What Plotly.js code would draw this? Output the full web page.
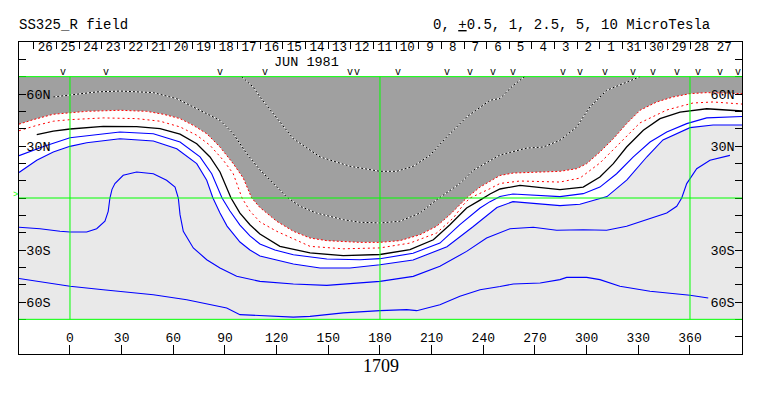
<!DOCTYPE html>
<html><head><meta charset="utf-8">
<script src="https://cdn.plot.ly/plotly-3.0.1.min.js"></script>
<style>html,body{margin:0;padding:0;background:#fff}</style>
</head><body><div id="chart" style="width:763px;height:396px"></div>
<script>
// ---- axis extents (degrees) ----
const lonMin = -29.6, lonMax = 390.2;

// ---- contour lines (longitude / latitude) ----
const redA_lon = [-29.6,-21.3,-9.7,0,9.7,29.0,44.5,54.2,63.9,71.6,79.4,87.1,94.8,100.6,105.5,110.3,120.0,129.7,139.4,149.1,168.4,180,191.6,203.2,212.9,220.6,226.4,230.3,238.1,249.7,257.4,269.0,284.5,294.2,300.0,307.7,315.5,323.2,331.0,340.7,350.3,360.0,369.7,390.2];
const redA_lat = [42.6,45.2,48.3,49.0,50.0,50.6,50.0,48.3,45.8,41.9,37.1,29.4,19.8,11.5,0,-5.5,-13.4,-19.2,-23.1,-24.6,-25.6,-25.6,-24.6,-21.2,-16.3,-9.6,-3.9,0,6.3,13.0,14.4,15.0,15.4,16.9,19.8,26.5,34.2,42.9,50.6,55.4,58.3,60.2,60.8,60.2];

const redB_lon = [-29.6,-19.3,-9.7,0,19.3,38.7,52.3,63.9,73.6,81.3,89.0,94.8,99.9,104.5,110.3,120.0,139.4,158.7,180,197.4,212.9,222.6,228.4,232.3,243.9,249.7,261.3,284.5,296.1,307.7,319.3,330.9,346.6,361.7,373.4,390.2];
const redB_lat = [38.8,41.9,44.3,45.2,46.2,45.8,44.3,41.0,36.2,30.4,21.8,14.0,0,-7.5,-13.8,-19.2,-27.9,-29.3,-28.8,-26.0,-20.2,-11.5,-3.9,0,5.4,8.4,9.8,9.2,11.5,20.2,31.7,43.3,50.8,54.8,55.4,54.2];

const black_lon = [-19.3,-9.7,0,19.3,38.7,52.3,63.9,73.6,81.3,87.1,93.5,98.7,104.5,110.3,121.9,139.4,158.7,180,197.4,211.0,220.6,230.3,238.1,243.9,249.7,261.3,284.5,298.0,307.7,315.5,323.2,332.9,342.6,354.2,369.7,390.2];
const black_lat = [36.5,38.6,39.8,41.3,41.2,40.0,36.8,31.3,23.7,15.0,0,-8.7,-15.4,-20.8,-27.9,-31.7,-33.3,-32.6,-29.8,-24.1,-15.4,-5.8,-1.2,2.3,5.2,7.3,4.8,6.3,12.1,19.8,29.4,39.1,45.8,49.6,51.5,50.2];

const blue1_lon = [-29.6,-14.5,0,29.0,48.4,63.9,75.5,82.3,88.3,92.9,98.7,104.5,110.3,119.0,129.7,149.1,168.4,180,199.2,214.8,226.4,238.1,243.9,249.7,257.2,284.5,298.0,307.7,317.4,327.1,336.8,346.5,358.1,369.7,390.2];
const blue1_lat = [24.4,30.0,34.8,38.1,37.1,32.3,23.7,14.0,0,-7.5,-15.6,-21.9,-26.5,-30.0,-32.7,-35.2,-35.6,-35.0,-31.9,-26.0,-15.4,-5.8,-2.1,0.9,2.3,0.8,2.5,6.3,14.0,23.7,32.3,38.1,42.9,46.2,47.0];

const blue2_lon = [-29.6,-19.3,-9.7,0,9.7,29.0,48.4,62.0,73.6,79.4,83.0,87.1,91.2,98.7,104.5,110.3,129.7,145.2,162.6,180,199.2,218.9,234.0,247.9,257.2,284.5,296.1,311.8,323.4,335.0,344.3,360.0,373.4,390.2];
const blue2_lat = [14.7,21.8,26.5,29.8,31.9,34.2,32.9,28.4,19.8,10.2,0,-8.7,-16.2,-25.4,-30.0,-33.5,-38.1,-40.4,-40.4,-38.5,-35.8,-28.1,-16.6,-5.5,-2.1,-4.4,-3.6,0.8,10.4,23.8,33.5,40.6,42.1,42.1];

const blue3_lon = [-29.6,-17.4,-5.8,0,9.7,15.5,20.3,22.2,23.2,24.4,26.1,30.9,38.7,48.4,56.1,61.0,62.9,63.9,65.8,71.6,79.4,87.1,96.8,110.3,129.7,149.1,180,199.3,214.8,230.3,241.9,249.7,255.5,269.0,282.6,298.0,311.6,323.2,334.9,346.5,352.3,355.2,358.1,363.9,371.6,383.2];
const blue3_lat = [-16.9,-17.7,-19.2,-19.6,-19.6,-17.7,-13.4,-7.7,0,5.0,8.3,13.1,15.0,14.0,10.2,6.3,0,-9.6,-19.2,-28.8,-35.6,-40.4,-45.2,-48.1,-49.6,-50.4,-48.1,-45.2,-39.4,-30.8,-23.1,-19.9,-17.7,-16.9,-18.6,-18.3,-18.6,-16.3,-12.5,-8.7,-4.8,0,8.3,16.9,21.8,24.6];

const blue4_lon = [-29.6,-17.4,0,19.3,48.4,67.8,83.2,91.0,98.7,110.3,129.7,139.4,158.7,180,195.5,201.3,214.8,226.4,238.1,249.7,257.4,273.0,284.5,288.4,300.0,307.7,319.3,336.8,360.0,370.6];
const blue4_lat = [-46.4,-48.1,-50.9,-52.9,-55.8,-58.7,-61.6,-63.5,-67.3,-67.7,-68.7,-68.3,-66.3,-65.0,-64.4,-65.0,-61.6,-56.7,-52.9,-51.1,-49.6,-49.0,-47.1,-45.8,-45.8,-47.1,-50.9,-53.8,-56.1,-57.7];

const dot1_lon = [-9.7,0,15.5,29.0,48.4,62.0,71.6,79.4,87.1,94.8,102.6,110.3,118.0,125.8,133.6,143.2,158.7,168.4,180,191.6,203.2,212.9,226.4,234.2,249.7,265.2,274.8,284.5,294.2,301.9,311.6,323.3,331.0];
const dot1_lat = [58.3,59.3,61.2,61.7,60.8,57.3,52.5,48.6,44.8,37.1,25.6,16.2,8.3,0.6,-4.8,-8.7,-12.5,-14.0,-14.4,-13.4,-8.7,-1.0,8.3,16.0,24.8,28.8,29.4,33.3,41.0,52.5,62.1,66.9,70];

const dot2_lon = [99.7,106.4,110.3,118.0,129.7,145.2,162.6,180,189.7,199.3,209.0,218.7,230.3,243.9,249.7,257.4,264.0];
const dot2_lat = [70,64.0,58.3,48.6,34.2,23.7,18.3,15.4,15.4,18.3,24.6,35.2,46.7,56.4,57.4,65.0,70];

// ---- pass markers (longitude) ----
const passLon = [-4.1,20.9,87.1,113.2,162.6,166.6,190.5,218.9,232.3,245.6,257.2,286.3,296.1,310.6,326.9,338.5,352.5,364.7,377.4,387.9];

// ---- tick labels ----
const lonTicks = [0,30,60,90,120,150,180,210,240,270,300,330,360];
const lonTickText = ['0','30','60','90','120','150','180','210','240','270','300','330','360'];
const latTicks = [-80,-70,-60,-50,-40,-30,-20,-10,0,10,20,30,40,50,60,70,80];
const latTickText = ['','','60S','','','30S','','','','','','30N','','','60N','',''];
const dayText = ['26','25','24','23','22','21','20','19','18','17','16','15','14','13','12','11','10','9','8','7','6','5','4','3','2','1','31','30','29','28','27'];
const dayLon = [-14.3,-1.2,12.0,25.1,38.2,51.4,64.5,77.7,90.8,103.9,117.1,130.2,143.4,156.5,169.6,182.8,195.9,209.1,222.2,235.3,248.5,261.6,274.8,287.9,301.0,314.2,327.3,340.5,353.6,366.7,379.9];
const dayEdgeLon = [-20.9,-7.8,5.4,18.5,31.7,44.8,57.9,71.1,84.2,97.4,110.5,123.6,136.8,149.9,163.1,176.2,189.3,202.5,215.6,228.8,241.9,255.0,268.2,281.3,294.5,307.6,320.7,333.9,347.0,360.2,373.3,386.4];
const gridLon = [0,180,360];
const gridLat = [-70,0,70];
const mapTop = 70, mapBottom = -70;

const FONT = 'Liberation Mono, Courier New, monospace';
const GREEN = '#00ff00';

function line(x, y, color, width, dash) {
  return {type:'scatter', mode:'lines', x:x, y:y, hoverinfo:'skip',
    line:{color:color, width:width, dash:dash || 'solid', shape:'linear'}};
}

const traces = [];
// top edge of the map (for the dark fill)
traces.push({type:'scatter', mode:'lines', x:[lonMin, lonMax], y:[mapTop, mapTop],
  line:{width:0, color:'rgba(0,0,0,0)'}, hoverinfo:'skip'});
// dark gray region above the outer red contour
const ra = line(redA_lon, redA_lat, 'rgba(0,0,0,0)', 0);
ra.fill = 'tonexty'; ra.fillcolor = '#a0a0a0';
traces.push(ra);
// white band between outer red and second blue contour
const b2f = line(blue2_lon, blue2_lat, 'rgba(0,0,0,0)', 0);
b2f.fill = 'tonexty'; b2f.fillcolor = '#ffffff';
traces.push(b2f);

// dotted black/white lines
traces.push(line(dot1_lon, dot1_lat, '#ffffff', 1));
traces.push(line(dot1_lon, dot1_lat, '#000000', 1, '2px,2px'));
traces.push(line(dot2_lon, dot2_lat, '#ffffff', 1));
traces.push(line(dot2_lon, dot2_lat, '#000000', 1, '2px,2px'));
// contours
traces.push(line(redA_lon, redA_lat, '#ff0000', 1, '2px,2px'));
traces.push(line(redB_lon, redB_lat, '#ff0000', 1, '2px,3px'));
traces.push(line(black_lon, black_lat, '#000000', 1.3));
traces.push(line(blue1_lon, blue1_lat, '#0000ff', 1.1));
traces.push(line(blue2_lon, blue2_lat, '#0000ff', 1.1));
traces.push(line(blue3_lon, blue3_lat, '#0000ff', 1.1));
traces.push(line(blue4_lon, blue4_lat, '#0000ff', 1.1));

// pass markers "v" in the top band
traces.push({type:'scatter', mode:'text', x:passLon, y:passLon.map(() => 72.4),
  text:passLon.map(() => 'v'), textposition:'middle center',
  textfont:{family:FONT, size:10, color:'#000'}, xaxis:'x2', yaxis:'y2', hoverinfo:'skip', cliponaxis:true});
// day-of-month labels in the top band
traces.push({type:'scatter', mode:'text', x:dayLon, y:dayLon.map(() => 86.4),
  text:dayText, textposition:'middle center',
  textfont:{family:FONT, size:12.5, color:'#000'}, xaxis:'x2', yaxis:'y2', hoverinfo:'skip', cliponaxis:false});

const shapes = [];
shapes.push({type:'rect', xref:'x', yref:'y', x0:lonMin, x1:lonMax, y0:mapBottom, y1:mapTop,
  fillcolor:'#e9e9e9', line:{width:0}, layer:'below'});
gridLon.forEach(v => shapes.push({type:'line', xref:'x', yref:'y', x0:v, x1:v, y0:mapBottom, y1:mapTop,
  line:{color:GREEN, width:1}, layer:'above'}));
gridLat.forEach(v => shapes.push({type:'line', xref:'x', yref:'y', x0:lonMin, x1:lonMax, y0:v, y1:v,
  line:{color:GREEN, width:1}, layer:'above'}));

const tickFont = {family:FONT, size:13.5, color:'#000'};
const layout = {
  width:763, height:396,
  margin:{l:19, r:21, t:42, b:42, pad:0},
  paper_bgcolor:'#ffffff', plot_bgcolor:'#ffffff',
  showlegend:false,
  xaxis:{range:[lonMin, lonMax], showgrid:false, zeroline:false, showline:true, mirror:true,
    linecolor:'#000', linewidth:1, tickmode:'array', tickvals:lonTicks, ticktext:lonTickText,
    ticks:'inside', ticklen:9, tickcolor:'#000', tickwidth:1, ticklabelposition:'inside',
    tickfont:{family:FONT, size:13, color:'#000'}, fixedrange:true},
  xaxis2:{overlaying:'x', side:'top', anchor:'y', range:[lonMin, lonMax], showgrid:false, zeroline:false,
    showline:false, tickmode:'array', tickvals:dayEdgeLon, showticklabels:false,
    ticks:'inside', ticklen:7, tickcolor:'#000', tickwidth:1, fixedrange:true},
  yaxis:{range:[-90, 90], showgrid:false, zeroline:false, showline:true, mirror:true,
    linecolor:'#000', linewidth:1, tickmode:'array', tickvals:latTicks, ticktext:latTickText,
    ticks:'inside', ticklen:7, tickcolor:'#000', tickwidth:1, ticklabelposition:'inside',
    tickfont:tickFont, fixedrange:true},
  yaxis2:{overlaying:'y', side:'right', anchor:'x', range:[-90, 90], showgrid:false, zeroline:false,
    showline:false, tickmode:'array', tickvals:latTicks, ticktext:latTickText,
    ticks:'inside', ticklen:7, tickcolor:'#000', tickwidth:1, ticklabelposition:'inside',
    tickfont:tickFont, fixedrange:true},
  shapes:shapes,
  annotations:[
    {text:'SS325_R field', xref:'paper', yref:'paper', x:-0.003, y:1.0545, xanchor:'left', yanchor:'middle',
      showarrow:false, font:{family:FONT, size:14, color:'#000'}},
    {text:'0, <u>+</u>0.5, 1, 2.5, 5, 10 MicroTesla', xref:'paper', yref:'paper', x:0.5698, y:1.0545,
      xanchor:'left', yanchor:'middle', showarrow:false, font:{family:FONT, size:14, color:'#000'}},
    {text:'JUN 1981', xref:'x', yref:'y', x:137.6, y:78.0, xanchor:'center', yanchor:'middle',
      showarrow:false, font:{family:FONT, size:13.5, color:'#000'}},
    {text:'1709', xref:'paper', yref:'paper', x:0.5, y:-0.0385, xanchor:'center', yanchor:'middle',
      showarrow:false, font:{family:'Liberation Serif, serif', size:18, color:'#000'}},
    {text:'>', xref:'paper', yref:'y', x:-0.005, y:2.0, xanchor:'center', yanchor:'middle',
      showarrow:false, font:{family:FONT, size:9, color:GREEN}}
  ]
};

Plotly.newPlot('chart', traces, layout, {displayModeBar:false, staticPlot:true});
</script></body></html>
